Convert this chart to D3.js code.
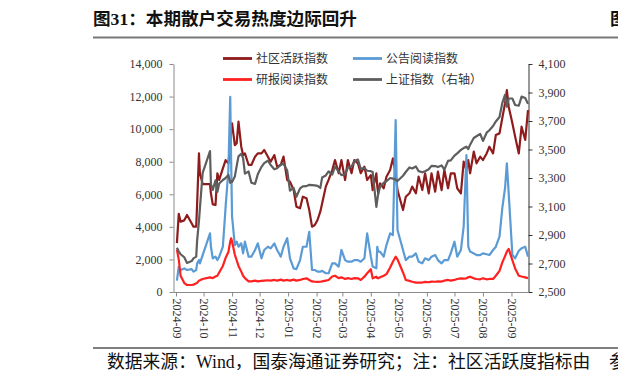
<!DOCTYPE html>
<html><head><meta charset="utf-8">
<script src="https://cdn.jsdelivr.net/npm/d3@7"></script>
<style>
body{margin:0;background:#fff;}
svg{display:block;}
text{font-family:'Liberation Serif','Noto Sans CJK SC',serif;}
</style></head><body>
<svg id="c" width="618" height="384"></svg>
<script>
const dates = ["2024-09-02","2024-09-04","2024-09-06","2024-09-10","2024-09-13","2024-09-18","2024-09-20","2024-09-23","2024-09-24","2024-09-26","2024-09-27","2024-09-30","2024-10-08","2024-10-09","2024-10-11","2024-10-14","2024-10-16","2024-10-18","2024-10-22","2024-10-25","2024-10-28","2024-10-30","2024-10-31","2024-11-01","2024-11-04","2024-11-06","2024-11-08","2024-11-11","2024-11-13","2024-11-15","2024-11-19","2024-11-22","2024-11-26","2024-11-29","2024-12-03","2024-12-06","2024-12-10","2024-12-13","2024-12-17","2024-12-20","2024-12-24","2024-12-27","2024-12-31","2025-01-03","2025-01-07","2025-01-10","2025-01-14","2025-01-17","2025-01-21","2025-01-24","2025-01-27","2025-01-30","2025-02-02","2025-02-05","2025-02-07","2025-02-11","2025-02-14","2025-02-18","2025-02-21","2025-02-25","2025-02-28","2025-03-04","2025-03-07","2025-03-11","2025-03-14","2025-03-18","2025-03-21","2025-03-25","2025-03-28","2025-04-01","2025-04-03","2025-04-07","2025-04-08","2025-04-09","2025-04-11","2025-04-15","2025-04-18","2025-04-22","2025-04-25","2025-04-28","2025-04-30","2025-05-06","2025-05-09","2025-05-13","2025-05-16","2025-05-20","2025-05-23","2025-05-27","2025-05-30","2025-06-03","2025-06-06","2025-06-10","2025-06-13","2025-06-17","2025-06-20","2025-06-24","2025-06-27","2025-07-01","2025-07-04","2025-07-08","2025-07-11","2025-07-14","2025-07-16","2025-07-18","2025-07-22","2025-07-25","2025-07-29","2025-08-01","2025-08-05","2025-08-08","2025-08-12","2025-08-15","2025-08-19","2025-08-22","2025-08-25","2025-08-27","2025-08-29","2025-09-02","2025-09-05","2025-09-09","2025-09-12","2025-09-16","2025-09-19"];

const community = [3000,4800,4320,4400,4730,4220,4010,4010,5440,8510,7290,6630,
6630,6060,5380,5340,7290,6880,7590,8100,7900,8920,9950,10360,
9020,9130,10460,8920,8410,8510,7800,7800,8310,8510,8510,8720,
8310,8000,8410,7700,7800,8310,6880,6780,6260,5240,5140,5850,
5750,5030,4010,4110,4420,4930,5440,6470,6880,7490,8100,7290,
8100,6880,8100,7290,8100,7900,7290,7700,6880,7180,6260,7290,
6500,6060,6670,6370,7080,7490,8200,7290,6260,5030,5850,6060,
6470,6060,7080,6260,7290,6060,7290,6160,7390,6260,7490,6370,
7290,7290,6370,6060,8000,7490,8100,7290,8620,7900,8310,8100,
8510,8920,8510,9640,9740,10670,11580,12400,11380,10360,9540,8510,
10150,9340,11170];

const announce = [700,1550,1350,1450,1350,1400,1250,1350,1760,1960,1760,2270,
3600,2780,2070,2170,1960,2170,2780,5240,7490,11990,8100,4630,
2880,3090,2780,2990,2370,3090,2170,2170,2580,2990,2070,2580,
2780,2680,2990,2580,2170,2780,3300,2070,1450,1400,1960,2780,
2780,3700,1350,1350,1250,1250,1300,1150,1150,1760,1760,1560,
2580,1960,1860,1860,1960,1960,1860,2070,3600,2170,1560,1450,
2780,2480,2480,2170,2880,3600,3500,10560,3810,2580,1960,2170,
2170,2370,1860,1760,2070,1960,2170,2270,1960,1760,1960,1960,
2380,3090,2170,2580,4010,8410,2780,2480,2370,2270,2270,2370,
2320,2270,2580,2780,3400,5140,6370,7900,6060,2270,2070,2530,
2680,2780,2170];

const research = [2600,2000,1000,550,430,430,450,530,560,700,720,800,
900,880,850,950,1000,1200,1600,2100,2450,3100,3300,3100,
2300,1950,1600,1250,1000,850,650,650,700,650,680,700,
720,700,740,700,760,700,740,700,760,700,740,800,
840,740,650,630,620,630,650,700,740,950,1000,850,
900,800,850,800,850,840,740,940,1150,1400,840,940,
860,840,900,1000,1100,1500,1860,2170,2000,1200,740,680,
630,580,580,580,620,600,640,630,650,640,700,740,
700,740,800,840,820,840,900,940,840,800,780,840,
780,800,800,1000,1300,1800,2200,2480,2650,1950,1450,1000,
950,900,850];

const shIndex = [2811,2784,2765,2744,2704,2717,2736,2748,2863,3000,3087,3336,
3489,3258,3217,3284,3202,3261,3286,3300,3322,3266,3279,3272,
3310,3383,3452,3470,3439,3331,3346,3267,3259,3326,3378,3404,
3422,3391,3361,3368,3394,3400,3352,3211,3230,3168,3227,3241,
3243,3252,3250,3248,3245,3230,3303,3318,3346,3324,3379,3346,
3320,3325,3372,3379,3419,3429,3364,3370,3351,3348,3342,3097,
3145,3186,3238,3267,3277,3300,3296,3288,3279,3316,3342,3374,
3367,3381,3348,3340,3347,3361,3385,3384,3377,3388,3359,3420,
3424,3457,3473,3497,3510,3520,3503,3534,3581,3593,3610,3560,
3618,3635,3665,3697,3728,3825,3883,3800,3858,3858,3812,3807,
3871,3861,3820];

const monthTicks = ["2024-09","2024-10","2024-11","2024-12","2025-01","2025-02","2025-03","2025-04","2025-05","2025-06","2025-07","2025-08","2025-09"];
const leftTicks = [0,2000,4000,6000,8000,10000,12000,14000];
const rightTicks = [2500,2700,2900,3100,3300,3500,3700,3900,4100];
const seriesNames = ["社区活跃指数","公告阅读指数","研报阅读指数","上证指数（右轴）"];
const title = "图31：本期散户交易热度边际回升";
const source = "数据来源：Wind，国泰海通证券研究；注：社区活跃度指标由";

const colors = ["#8E1C1C","#5B9BD5","#FF2020","#5E5E5E"];
const svg = d3.select("#c");
const parseD = d3.timeParse("%Y-%m-%d");
const parseM = d3.timeParse("%Y-%m");
const D = dates.map(parseD);

const x = d3.scaleTime().domain([new Date(2024,8,1), new Date(2025,8,19)]).range([176,528]);
const yL = d3.scaleLinear().domain([0,14000]).range([292,64]);
const yR = d3.scaleLinear().domain([2500,4100]).range([292,64]);

// title & rules
svg.append("text").attr("x",93).attr("y",25).attr("font-size",17.6).attr("font-weight","bold").attr("fill","#111").text(title);
svg.append("text").attr("x",610).attr("y",25).attr("font-size",17.6).attr("font-weight","bold").attr("fill","#111").text("图");
svg.append("line").attr("x1",93).attr("x2",618).attr("y1",37.5).attr("y2",37.5).attr("stroke","#777").attr("stroke-width",2);
svg.append("line").attr("x1",93).attr("x2",618).attr("y1",348).attr("y2",348).attr("stroke","#555").attr("stroke-width",1.5);
svg.append("text").attr("x",107).attr("y",368).attr("font-size",17.8).attr("fill","#111").text(source);
svg.append("text").attr("x",609).attr("y",368).attr("font-size",17.8).attr("fill","#111").text("参");

// axes
const fmt = d3.format(",");
const gL = svg.append("g").attr("transform","translate(173.5,0)")
  .call(d3.axisLeft(yL).tickValues(leftTicks).tickFormat(fmt).tickSize(4).tickSizeOuter(0));
gL.select(".domain").attr("stroke","#8a8a8a");
gL.selectAll(".tick line").attr("stroke","#8a8a8a");
gL.selectAll("text").attr("font-size",12).attr("fill","#333").attr("x",-11);

const gR = svg.append("g").attr("transform","translate(528.5,0)")
  .call(d3.axisRight(yR).tickValues(rightTicks).tickFormat(fmt).tickSize(4).tickSizeOuter(0));
gR.select(".domain").attr("stroke","#333");
gR.selectAll(".tick line").attr("stroke","#333");
gR.selectAll("text").attr("font-size",12).attr("fill","#333").attr("x",10);

svg.append("line").attr("x1",173.5).attr("x2",528.5).attr("y1",292.5).attr("y2",292.5).attr("stroke","#8a8a8a");
const gB = svg.append("g").attr("transform","translate(0,292.5)")
  .call(d3.axisBottom(x).tickValues(monthTicks.map(parseM)).tickFormat(d3.timeFormat("%Y-%m")).tickSize(4).tickSizeOuter(0));
gB.select(".domain").remove();
gB.selectAll(".tick line").attr("stroke","#8a8a8a");
gB.selectAll("text").attr("font-size",12).attr("fill","#333")
  .attr("transform","rotate(90)").attr("x",6).attr("y",0).attr("dy","0.33em").attr("text-anchor","start");

// lines
const series = [
  {v:community, s:yL},
  {v:announce, s:yL},
  {v:research, s:yL},
  {v:shIndex, s:yR}
];
series.forEach((sr,i)=>{
  const line = d3.line().x((d,j)=>x(D[j])).y(d=>sr.s(d));
  svg.append("path").datum(sr.v).attr("d",line).attr("fill","none")
    .attr("stroke",colors[i]).attr("stroke-width",2.2).attr("stroke-linejoin","round");
});

// legend
const legPos = [[223,58.5],[353,58.5],[223,79.5],[353,79.5]];
seriesNames.forEach((n,i)=>{
  const [lx,ly] = legPos[i];
  svg.append("line").attr("x1",lx).attr("x2",lx+29).attr("y1",ly).attr("y2",ly)
    .attr("stroke",colors[i]).attr("stroke-width",2.8);
  svg.append("text").attr("x",lx+33).attr("y",ly).attr("dy","0.35em").attr("font-size",12).attr("fill","#333").text(n);
});
</script>
</body></html>
